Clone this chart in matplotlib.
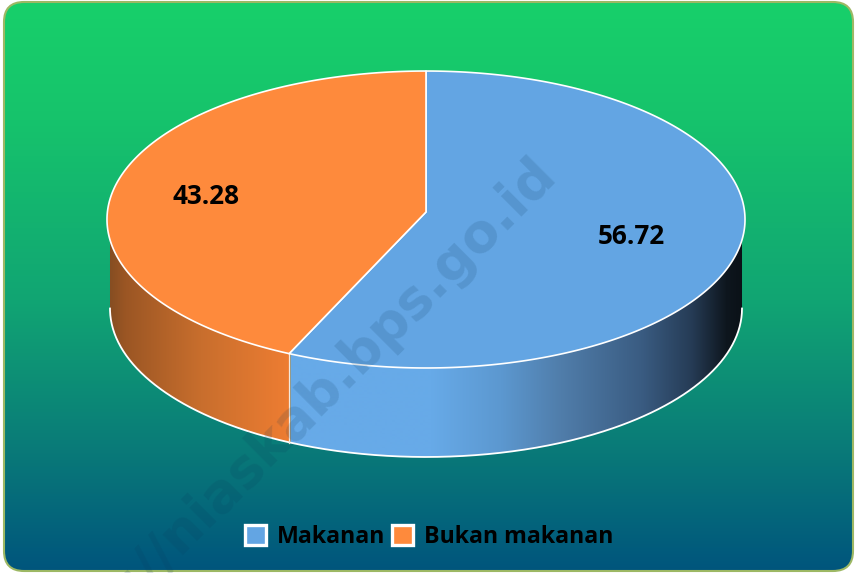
import numpy as np
import matplotlib
matplotlib.use("Agg")
import matplotlib.pyplot as plt
from matplotlib.patches import FancyBboxPatch, Polygon, Patch

categories = ["Makanan", "Bukan makanan"]
values = [56.72, 43.28]
top_colors = ["#63A5E3", "#FE8A3C"]

plt.rcParams["font.family"] = ["Open Sans", "DejaVu Sans"]
fig = plt.figure(figsize=(8.55, 5.73), dpi=100, facecolor="white")
ax = fig.add_axes([0, 0, 1, 1])
W, H = 855, 573

# Rounded background with vertical gradient
stops_y = [0, 120, 300, 440, 573]
stops_c = np.array([[24, 208, 106], [22, 195, 108], [17, 165, 115], [10, 125, 120], [0, 84, 125]]) / 255
ys = np.arange(H)
grad = np.stack([np.interp(ys, stops_y, stops_c[:, i]) for i in range(3)], axis=1)[:, None, :]
im = ax.imshow(grad, extent=(0, W, H, 0), aspect="auto", interpolation="bilinear", zorder=1)
frame = FancyBboxPatch((4, 2), 849, 569, boxstyle="round,pad=0,rounding_size=20",
                       fc="none", ec="#9DB864", lw=1.5, zorder=2)
ax.add_patch(frame)
im.set_clip_path(frame)

# Projected disc
CX, CY, RX, RY, K, DEPTH, SHRINK = 426, 212, 318.6, 148.1, 0.0505, 89, 316 / 319


def disc(theta, dy=0.0, scale=1.0):
    u, v = np.sin(theta), -np.cos(theta)
    d = 1 - K * v
    return CX + scale * RX * u / d, CY + dy + RY * v / d


angles = np.cumsum([0] + values) / sum(values) * 2 * np.pi
left_limit = 2 * np.pi - np.arccos(-K)
right_limit = np.arccos(-K)
split = angles[1]

# Side walls, one shading per slice
blue_x = [289, 430, 500, 560, 640, 690, 725, 745]
blue_c = np.array([[103, 170, 232], [103, 170, 232], [92, 152, 208], [80, 125, 170],
                   [58, 92, 130], [38, 60, 86], [14, 22, 30], [10, 16, 22]]) / 255
orange_x = [107, 125, 200, 289]
orange_c = np.array([[130, 76, 34], [155, 86, 36], [200, 110, 45], [238, 125, 50]]) / 255
xs = np.arange(100, 751)
for (t0, t1), sx_, sc_ in [((right_limit, split), blue_x, blue_c), ((split, left_limit), orange_x, orange_c)]:
    wall = np.stack([np.interp(xs, sx_, sc_[:, i]) for i in range(3)], axis=1)[None, :, :]
    t = np.linspace(t0, t1, 200)
    bx, by = disc(t, DEPTH, SHRINK)
    tx, ty = disc(t, 0, SHRINK)
    poly = Polygon(np.r_[np.c_[tx, ty][::-1], np.c_[bx, by]], closed=True, fc="none", ec="none",
                   transform=ax.transData)
    ax.add_patch(poly)
    w = ax.imshow(wall, extent=(100, 751, 460, 60), aspect="auto", interpolation="bilinear", zorder=3)
    w.set_clip_path(poly)

t = np.linspace(right_limit, left_limit, 400)
bx, by = disc(t, DEPTH, SHRINK)
ax.plot(bx, by, color="white", lw=1.3, zorder=4)
sx, sy = disc(np.array([split]))
ax.plot([sx[0], sx[0]], [sy[0], sy[0] + DEPTH], color="#F4E8DC", lw=0.9, zorder=4)

# Top face
for i, (a0, a1) in enumerate(zip(angles[:-1], angles[1:])):
    t = np.linspace(a0, a1, 300)
    x, y = disc(t)
    ax.add_patch(Polygon(np.r_[[[CX, CY]], np.c_[x, y]], closed=True, fc=top_colors[i], ec="white",
                         lw=1.2, joinstyle="round", zorder=5))

# Data labels
label_xy = [(631.5, 236), (205.5, 196)]
for v, (lx, ly) in zip(values, label_xy):
    ax.text(lx, ly, f"{v:.2f}", ha="center", va="center", fontsize=18.8, fontweight="bold",
            color="black", zorder=6)

# Legend
handles = [Patch(facecolor=c, edgecolor="white", linewidth=2.4) for c in top_colors]
leg = ax.legend(handles, categories, ncol=2, frameon=False, loc="center", bbox_to_anchor=(429 / W, 1 - 537 / H),
                prop={"size": 16.7, "weight": "bold"}, handlelength=0.9, handleheight=0.9,
                handletextpad=0.45, columnspacing=0.32, borderpad=0, labelcolor="black")
leg.set_zorder(6)

# Watermark
ax.text(558, 176, "http://niaskab.bps.go.id", rotation=45, rotation_mode="anchor", ha="right", va="baseline",
        fontsize=38.5, fontweight="bold", family="DejaVu Sans", color="#0A3A5A", alpha=0.15, zorder=7,
        clip_on=True)

ax.set_xlim(0, W)
ax.set_ylim(H, 0)
ax.axis("off")
fig.savefig("out.png", dpi=100, facecolor="white")
